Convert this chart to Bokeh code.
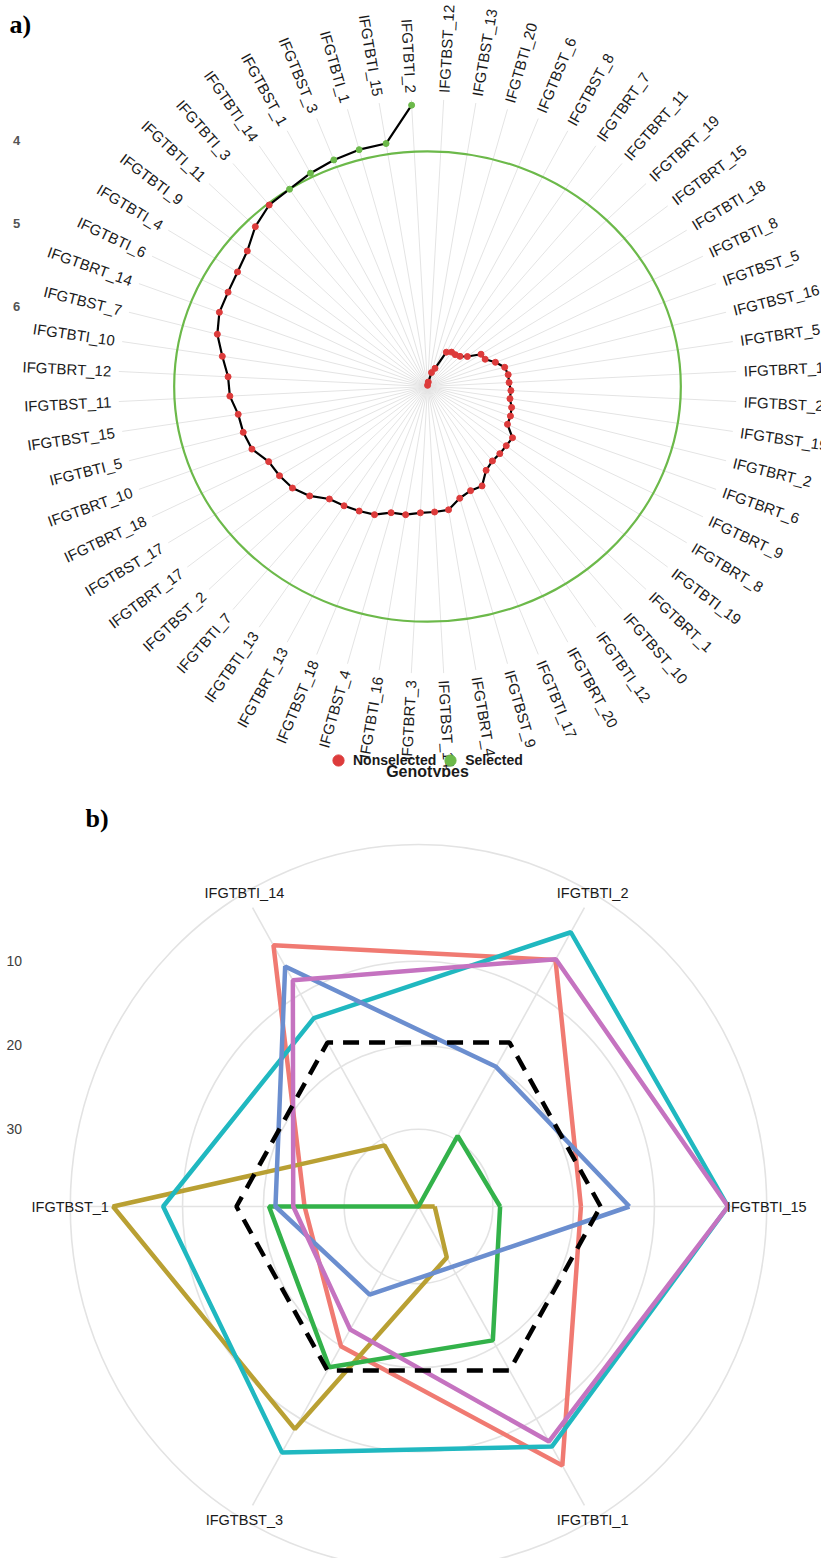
import numpy as np
from bokeh.plotting import figure
from bokeh.models import Range1d, Legend, LegendItem
from bokeh.layouts import column
from bokeh.embed import file_html
from bokeh.resources import INLINE
from bokeh.core.properties import value

# ---------------- DATA: panel a (MGIDI, genotypes sorted clockwise) ----------------
genotypes = [
    "IFGTBST_12", "IFGTBST_13", "IFGTBTI_20", "IFGTBST_6", "IFGTBST_8", "IFGTBRT_7",
    "IFGTBRT_11", "IFGTBRT_19", "IFGTBRT_15", "IFGTBTI_18", "IFGTBTI_8", "IFGTBST_5",
    "IFGTBST_16", "IFGTBRT_5", "IFGTBRT_16", "IFGTBST_20", "IFGTBST_19", "IFGTBRT_2",
    "IFGTBRT_6", "IFGTBRT_9", "IFGTBRT_8", "IFGTBTI_19", "IFGTBRT_1", "IFGTBST_10",
    "IFGTBTI_12", "IFGTBRT_20", "IFGTBTI_17", "IFGTBST_9", "IFGTBRT_4", "IFGTBST_14",
    "IFGTBRT_3", "IFGTBTI_16", "IFGTBST_4", "IFGTBST_18", "IFGTBRT_13", "IFGTBTI_13",
    "IFGTBTI_7", "IFGTBST_2", "IFGTBRT_17", "IFGTBST_17", "IFGTBRT_18", "IFGTBRT_10",
    "IFGTBTI_5", "IFGTBST_15", "IFGTBST_11", "IFGTBRT_12", "IFGTBTI_10", "IFGTBST_7",
    "IFGTBRT_14", "IFGTBTI_6", "IFGTBTI_4", "IFGTBTI_9", "IFGTBTI_11", "IFGTBTI_3",
    "IFGTBTI_14", "IFGTBST_1", "IFGTBST_3", "IFGTBTI_1", "IFGTBTI_15", "IFGTBTI_2",
]
mgidi = [
    6.95, 6.91, 6.79, 6.73, 6.50, 6.47, 6.47, 6.45, 6.39, 6.25,
    6.24, 6.15, 6.07, 6.05, 6.05, 6.03, 6.03, 5.99, 5.97, 5.96,
    5.83, 5.83, 5.82, 5.81, 5.76, 5.62, 5.62, 5.57, 5.46, 5.45,
    5.44, 5.40, 5.39, 5.31, 5.28, 5.25, 5.22, 5.10, 5.02, 4.99,
    4.97, 4.86, 4.83, 4.82, 4.75, 4.73, 4.64, 4.53, 4.47, 4.46,
    4.43, 4.37, 4.24, 4.15, 4.13, 4.08, 4.04, 4.01, 4.00, 3.57,
]
selected = ["IFGTBTI_14", "IFGTBST_1", "IFGTBST_3", "IFGTBTI_1", "IFGTBTI_15", "IFGTBTI_2"]
cutoff = 4.13
mgidi_ticks = [4, 5, 6]

# ---------------- DATA: panel b (factor contributions, selected genotypes) ----------------
radar_axes = ["IFGTBTI_15", "IFGTBTI_2", "IFGTBTI_14", "IFGTBST_1", "IFGTBST_3", "IFGTBTI_1"]
fa1 = [19.1, 5.3, 3.3, 25.1, 20.0, 3.6]     # salmon
fa2 = [37.2, 39.2, 30.8, 1.4, 8.6, 32.2]    # olive
fa3 = [29.1, 29.5, 39.2, 20.7, 17.1, 20.8]  # green
fa4 = [0.9, 1.5, 13.3, 7.6, 5.4, 6.2]       # cyan
fa5 = [13.1, 20.0, 6.2, 21.5, 27.1, 30.9]   # blue
fa6 = [0.9, 5.2, 8.1, 23.7, 22.3, 6.9]      # purple
mean_contrib = 100 / 6
radar_ticks = [10, 20, 30]

# ---------------- layout constants ----------------
W = 821
HA = 777
HB = 781
FONT = value("Liberation Sans")

# ============ Panel a ============
CXA, CYA = 427, 386        # center in frame px
PXU = 83.0                 # px per MGIDI unit (vertical)
SX = 1.077                 # horizontal stretch
MG_CENTER = 6.964

pa = figure(width=W, height=HA, output_backend="svg", toolbar_location=None,
            x_range=Range1d(-CXA / (PXU * SX), (W - CXA) / (PXU * SX)),
            y_range=Range1d(-(HA - CYA) / PXU, CYA / PXU),
            min_border=0)
pa.axis.visible = False
pa.grid.visible = False
pa.outline_line_color = None
pa.background_fill_color = "white"

n = len(genotypes)
theta = np.radians(3 + 6 * np.arange(n))
r = MG_CENTER - np.array(mgidi)
xs = r * np.sin(theta)
ys = r * np.cos(theta)

R_SPOKE = 287 / PXU
pa.segment(x0=np.zeros(n), y0=np.zeros(n), x1=R_SPOKE * np.sin(theta), y1=R_SPOKE * np.cos(theta),
           line_color="#e4e4e4", line_width=1)

rc = MG_CENTER - cutoff
pa.ellipse(x=[0], y=[0], width=[2 * rc], height=[2 * rc], fill_color=None,
           line_color="#6cb94a", line_width=2.2)

pa.line(xs, ys, line_color="black", line_width=2.2)
is_sel = np.array([g in selected for g in genotypes])
r_non = pa.scatter(xs[~is_sel], ys[~is_sel], size=6, fill_color="#dd3b3b", line_color="#dd3b3b")
r_sel = pa.scatter(xs[is_sel], ys[is_sel], size=6, fill_color="#6cb94a", line_color="#6cb94a")

R_LAB = 294 / PXU
lx = R_LAB * np.sin(theta)
ly = R_LAB * np.cos(theta)
phi = np.arctan2(np.cos(theta), SX * np.sin(theta))
right = np.sin(theta) >= 0
for mask, align, add in [(right, "left", 0.0), (~right, "right", np.pi)]:
    pa.text(x=lx[mask], y=ly[mask], text=[g for g, m in zip(genotypes, mask) if m],
            angle=phi[mask] + add, text_align=align, text_baseline="middle",
            text_font=FONT, text_font_size="15px", text_color="#1a1a1a")

# radial tick labels (left side)
tick_x = (16 - CXA) / (PXU * SX)
pa.text(x=[tick_x] * len(mgidi_ticks), y=[MG_CENTER - v for v in mgidi_ticks],
        text=[str(v) for v in mgidi_ticks], text_align="center", text_baseline="middle",
        text_font=FONT, text_font_size="13px", text_font_style="bold", text_color="#555555")

# panel tag
pa.text(x=[(9 - CXA) / (PXU * SX)], y=[(CYA - 9) / PXU], text=["a)"], text_align="left",
        text_baseline="top", text_font=value("Liberation Serif"), text_font_size="26px",
        text_font_style="bold", text_color="black")

# legend
legend = Legend(items=[LegendItem(label="Nonselected", renderers=[r_non]),
                       LegendItem(label="Selected", renderers=[r_sel])],
                orientation="horizontal", location=(324, 3),
                glyph_width=28, glyph_height=28, label_standoff=1, spacing=0,
                padding=0, margin=0, border_line_color=None, background_fill_alpha=0,
                label_text_font="Liberation Sans", label_text_font_size="14px",
                label_text_font_style="bold", label_text_color="#1a1a1a")
pa.add_layout(legend, "center")
pa.text(x=[0], y=[(CYA - 762) / PXU], text=["Genotypes"], text_align="center",
        text_baseline="top", text_font=FONT, text_font_size="16px",
        text_font_style="bold", text_color="#1a1a1a")

# ============ Panel b ============
CXB, CYB = 418, 429        # radar center in frame px
SXB = 0.962                # horizontal px per vertical px
V0 = 39.2                  # contribution at the centre
K = 8.4                    # px per contribution unit
R_OUT = 362                # outer ring / label radius (px)

def rad(v):
    return (V0 - np.asarray(v, dtype=float)) * K

pb = figure(width=W, height=HB, output_backend="svg", toolbar_location=None,
            x_range=Range1d(-CXB / SXB, (W - CXB) / SXB), y_range=Range1d(-(HB - CYB), CYB),
            min_border=0)
pb.axis.visible = False
pb.grid.visible = False
pb.outline_line_color = None
pb.background_fill_color = "white"

ang = np.radians([0, 60, 120, 180, 240, 300])
grid_r = list(rad(radar_ticks)) + [R_OUT]
pb.ellipse(x=[0] * len(grid_r), y=[0] * len(grid_r), width=[2 * g for g in grid_r],
           height=[2 * g for g in grid_r], fill_color=None, line_color="#e3e3e3", line_width=1.6)
R_SP = 345
pb.segment(x0=np.zeros(6), y0=np.zeros(6), x1=R_SP * np.cos(ang), y1=R_SP * np.sin(ang),
           line_color="#e3e3e3", line_width=1.6)

series = [(fa1, "#f07a72"), (fa2, "#b9a033"), (fa3, "#33b24a"),
          (fa4, "#20b8c0"), (fa5, "#6b8ecf"), (fa6, "#c573c0")]
for vals, col in series:
    rr = rad(vals)
    px = list(rr * np.cos(ang)) + [rr[0] * np.cos(ang[0])]
    py = list(rr * np.sin(ang)) + [rr[0] * np.sin(ang[0])]
    pb.line(px, py, line_color=col, line_width=4.5)
rm = rad([mean_contrib] * 6)
pb.line(list(rm * np.cos(ang)) + [rm[0]], list(rm * np.sin(ang)) + [0.0],
        line_color="black", line_width=4.5, line_dash="16 10")

pb.text(x=R_OUT * np.cos(ang), y=R_OUT * np.sin(ang), text=radar_axes, text_align="center",
        text_baseline="middle", text_font=FONT, text_font_size="14.5px", text_color="#1a1a1a")

pb.text(x=[(6 - CXB) / SXB] * len(radar_ticks), y=rad(radar_ticks),
        text=[str(v) for v in radar_ticks], text_align="left", text_baseline="middle",
        text_font=FONT, text_font_size="14px", text_color="#3d3d3d")

pb.text(x=[(85 - CXB) / SXB], y=[CYB - 26], text=["b)"], text_align="left", text_baseline="top",
        text_font=value("Liberation Serif"), text_font_size="26px", text_font_style="bold",
        text_color="black")

layout = column(pa, pb, spacing=0)
open("out.html", "w").write(file_html(layout, INLINE))
